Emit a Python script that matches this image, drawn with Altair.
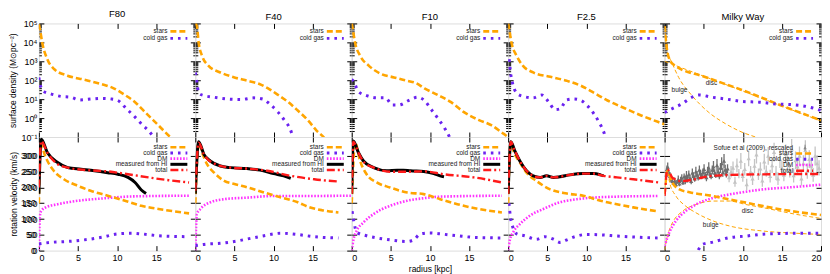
import altair as alt
import pandas as pd

FONT = "Liberation Sans"

# ---------------- surface density (top row), Msun/pc^2 ----------------
F80_STARS_R = [0, 0.2, 0.43, 1.08, 1.94, 3.66, 5.8, 7.97, 9.3, 11.0, 12.3, 13.6, 15.3, 16.8, 17.5]
F80_STARS_S = [89000, 35000, 9500, 1290, 390, 174, 107, 63, 42, 16.6, 6.9, 2.0, 0.41, 0.1, 0.06]
F80_GAS_R = [0, 0.2, 0.65, 1.5, 2.8, 4.1, 5.2, 6.7, 8.0, 9.3, 10.1, 11.2, 12.3, 13.1, 14.0, 14.7, 15.2]
F80_GAS_S = [141, 51, 25, 19, 14, 12.6, 9.1, 10.2, 11, 10.2, 8.5, 3.1, 1.12, 0.5, 0.22, 0.1, 0.06]

F40_STARS_R = [0, 0.2, 0.43, 0.86, 1.7, 3.2, 5.0, 6.7, 8.2, 9.3, 10.6, 11.9, 13.1, 14.4, 15.5, 16.4, 17.0]
F40_STARS_S = [100000, 72000, 9500, 1950, 575, 257, 141, 93, 63, 37, 16.6, 6.9, 2.5, 0.76, 0.22, 0.1, 0.05]
F40_GAS_R = [0, 0.2, 0.43, 1.1, 2.4, 4.1, 5.8, 7.5, 8.6, 9.5, 10.6, 11.4, 12.1, 12.5, 12.8]
F40_GAS_S = [257, 78, 21, 15.5, 12.6, 10.2, 9.5, 11.7, 10.2, 5.6, 2.0, 0.76, 0.28, 0.1, 0.05]

F10_STARS_R = [0, 0.13, 0.43, 1.08, 2.2, 3.7, 5.4, 7.1, 8.2, 9.3, 11.0, 12.7, 14.4, 16.2, 17.9, 19.4, 20]
F10_STARS_S = [100000, 49000, 9500, 1950, 575, 219, 141, 93, 71, 37, 16.6, 6.9, 2.0, 0.81, 0.41, 0.15, 0.1]
F10_GAS_R = [0, 0.2, 0.86, 1.9, 3.2, 4.3, 5.2, 6.0, 7.3, 8.4, 9.3, 10.1, 11.2, 11.9, 12.5, 12.8]
F10_GAS_S = [112, 93, 25, 15.5, 11.7, 11.7, 4.9, 4.9, 8.5, 12.6, 8.5, 3.1, 0.76, 0.28, 0.1, 0.05]

F25_STARS_R = [0, 0.13, 0.43, 1.08, 1.9, 3.2, 5.4, 7.5, 9.3, 11.0, 12.7, 14.9, 17.0, 19.2, 20]
F25_STARS_S = [100000, 49000, 9500, 1950, 575, 257, 151, 93, 51, 21, 8.5, 3.3, 1.38, 0.62, 0.47]
F25_GAS_R = [0.13, 0.3, 0.56, 1.08, 1.9, 3.2, 4.3, 5.2, 6.0, 6.7, 7.1, 7.5, 8.4, 9.3, 10.1, 11.0, 11.6, 12.3, 12.5]
F25_GAS_S = [1290, 257, 71, 21, 14, 11.7, 16.6, 6.9, 2.8, 3.1, 5.6, 9.1, 10.2, 8.5, 4.6, 1.6, 0.62, 0.15, 0.08]

MW_STARS_R = [0, 0.3, 0.73, 1.4, 5, 10, 15, 20]
MW_STARS_S = [72000, 4400, 1050, 575, 158, 29.5, 4.5, 0.76]
MW_DISC_R = [0, 5, 10, 15, 20]
MW_DISC_S = [1000, 163, 27, 4.3, 0.7]
MW_BULGE_R = [0, 0.3, 0.94, 1.8, 3.5, 5.65, 7.8, 9.9, 11.9, 12.5]
MW_BULGE_S = [71000, 4000, 850, 141, 15.5, 2.0, 0.5, 0.18, 0.09, 0.07]
MW_GAS_R = [0, 0.94, 2.2, 3.5, 4.4, 6.1, 7.8, 9.9, 12.1, 14.2, 16.4, 18.5, 20]
MW_GAS_S = [2.0, 3.1, 5.6, 12.6, 16.6, 12.6, 10.2, 7.6, 6.9, 5.6, 5.1, 3.8, 2.5]

# ---------------- rotation velocity (bottom row), km/s ----------------
F80_VS_R = [0, 0.13, 0.43, 0.65, 1.1, 1.9, 3.2, 5.0, 6.7, 8.8, 11.0, 13.1, 15.3, 19.2]
F80_VS_V = [150, 305, 332, 311, 284, 253, 226, 205, 189, 174, 158, 142, 132, 118]
F80_VG_R = [0, 1.5, 3.7, 5.8, 8.0, 10.1, 11.9, 13.1, 15.3, 19.2]
F80_VG_V = [21, 26, 29, 34, 42, 53, 55, 53, 47, 44]
F80_VD_R = [0, 0.1, 0.2, 0.86, 2.4, 5.0, 8.0, 12.3, 19.2]
F80_VD_V = [0, 95, 121, 137, 147, 158, 165, 172, 174]
F80_HI_R = [0, 0.3, 1.1, 2.4, 3.7, 5.4, 7.1, 8.8, 10.1, 11.4, 12.3, 13.1, 13.7]
F80_HI_V = [180, 353, 310, 279, 263, 258, 253, 247, 242, 232, 216, 192, 181]
F80_VT_R = [0, 0.3, 1.1, 2.4, 3.7, 6.2, 8.8, 11.4, 14.0, 16.6, 19.2]
F80_VT_V = [200, 347, 310, 274, 263, 255, 251, 242, 232, 223, 216]

F40_VS_R = [0, 0.43, 0.86, 1.5, 2.4, 3.7, 5.0, 6.7, 8.8, 11.0, 13.1, 14.4, 16.2, 18.3]
F40_VS_V = [150, 342, 311, 274, 247, 221, 211, 200, 184, 168, 153, 139, 128, 121]
F40_VG_R = [0, 1.5, 3.2, 5.0, 6.7, 8.8, 10.9, 13.1, 15.2, 18.3]
F40_VG_V = [16, 21, 23, 29, 37, 47, 55, 51, 44, 40]
F40_VD_R = [0, 0.2, 0.65, 1.9, 3.7, 6.7, 10.0, 13.1, 20]
F40_VD_V = [0, 116, 132, 153, 163, 168, 173, 173, 174]
F40_HI_R = [0, 0.43, 1.1, 1.9, 3.2, 4.5, 6.6, 8.3, 10.0, 11.3, 12.2]
F40_HI_V = [180, 345, 305, 284, 268, 263, 260, 255, 244, 237, 229]
F40_VT_R = [0, 0.43, 1.1, 2.4, 4.5, 6.6, 9.2, 12.2, 15.2, 18.2]
F40_VT_V = [190, 342, 305, 276, 263, 260, 253, 237, 226, 219]

F10_VS_R = [0, 0.43, 1.07, 1.9, 3.2, 4.9, 7.1, 9.2, 11.3, 13.5, 15.6, 19.2]
F10_VS_V = [150, 342, 284, 242, 216, 200, 184, 179, 163, 147, 135, 121]
F10_VG_R = [0.05, 0.25, 0.64, 1.9, 3.2, 4.9, 7.1, 7.9, 8.8, 10.0, 11.3, 13.5, 15.6, 19.2]
F10_VG_V = [125, 95, 58, 47, 40, 34, 29, 34, 53, 56, 53, 47, 42, 40]
F10_VD_R = [0, 0.2, 0.64, 1.5, 2.8, 4.9, 7.1, 9.2, 11.3, 19.2]
F10_VD_V = [0, 32, 63, 89, 116, 142, 158, 166, 171, 174]
F10_HI_R = [0, 0.2, 0.85, 1.5, 2.8, 4.5, 5.8, 6.6, 7.5, 9.2, 10.5, 11.3, 11.8]
F10_HI_V = [180, 347, 311, 284, 263, 253, 255, 255, 253, 251, 244, 237, 234]
F10_VT_R = [0, 0.2, 0.85, 1.5, 2.8, 4.9, 7.1, 9.2, 11.8, 15.6, 19.2]
F10_VT_V = [180, 345, 311, 282, 263, 250, 250, 251, 242, 232, 216]

F25_VS_R = [0, 0.3, 0.85, 1.5, 2.35, 3.6, 5.3, 7.5, 9.6, 11.8, 13.9, 16.0, 19.2]
F25_VS_V = [150, 339, 305, 279, 247, 221, 195, 181, 174, 158, 147, 137, 124]
F25_VG_R = [0.1, 0.3, 0.6, 1.1, 2.1, 3.6, 4.7, 5.8, 6.6, 7.5, 8.5, 10.0, 11.8, 14.0, 16.0, 19.2]
F25_VG_V = [150, 105, 74, 53, 47, 36, 44, 36, 26, 34, 44, 51, 50, 46, 43, 40]
F25_VD_R = [0, 0.2, 0.64, 1.5, 2.8, 4.5, 6.6, 8.8, 10.9, 13.9, 19.2]
F25_VD_V = [0, 32, 58, 84, 111, 132, 153, 163, 168, 171, 173]
F25_HI_R = [0, 0.34, 0.85, 1.5, 2.35, 3.2, 4.1, 4.9, 5.8, 6.6, 7.9, 9.6, 10.9, 11.8, 12.2]
F25_HI_V = [180, 345, 316, 284, 253, 237, 232, 237, 232, 234, 240, 244, 244, 240, 237]
F25_VT_R = [0, 0.34, 0.85, 1.5, 2.35, 3.2, 4.1, 4.9, 5.8, 6.6, 7.9, 9.6, 10.9, 12.2, 13.9, 16.0, 19.2]
F25_VT_V = [180, 345, 316, 284, 253, 237, 232, 237, 232, 234, 240, 244, 244, 237, 232, 226, 216]

MW_VS_R = [0, 0.38, 1.0, 1.9, 3.2, 6.2, 8.3, 10.4, 12.6, 16.8, 20]
MW_VS_V = [180, 252, 215, 194, 185, 173, 162, 152, 141, 123, 113]
MW_VDISC_R = [0, 0.3, 0.6, 1.0, 2.3, 4.0, 6.2, 8.3, 10.4, 12.6, 16.8, 20]
MW_VDISC_V = [0, 40, 65, 88, 125, 146, 157, 157, 146, 136, 115, 102]
MW_VBULGE_R = [0, 0.3, 0.7, 1.45, 2.7, 4.0, 6.2, 8.3, 12.6, 16.8, 20]
MW_VBULGE_V = [180, 255, 210, 173, 141, 120, 94, 78, 62, 55, 51]
MW_VD_R = [0, 0.6, 1.45, 2.7, 4.0, 6.2, 8.3, 12.6, 16.8, 20]
MW_VD_V = [15, 57, 94, 125, 146, 167, 178, 194, 202, 209]
MW_VG_R = [4.3, 4.9, 6.2, 8.3, 10.4, 12.6, 14.7, 16.8, 20]
MW_VG_V = [2, 20, 27, 41, 46, 52, 54, 55, 55]
MW_VT_R = [0, 0.38, 1.0, 2.3, 4.0, 5.7, 7.4, 10.4, 20]
MW_VT_V = [173, 257, 231, 220, 227, 236, 239, 241, 243]

# Sofue et al (2009) observed rotation curve, rescaled (inner: dark, outer: light)
SOFUE_IN_R = [0.2, 0.3, 0.4, 0.5, 0.6, 0.7, 0.8, 0.9, 1.0, 1.15, 1.3, 1.45, 1.6, 1.75, 1.9, 2.05,
              2.2, 2.35, 2.5, 2.65, 2.8, 2.95, 3.1, 3.25, 3.4, 3.55, 3.7, 3.85, 4.0, 4.15, 4.3,
              4.45, 4.6, 4.75, 4.9, 5.05, 5.2, 5.35, 5.5, 5.65, 5.8, 5.95, 6.1, 6.25, 6.4, 6.55,
              6.7, 6.85, 7.0, 7.15, 7.3, 7.45, 7.6, 7.75, 7.9, 8.05]
SOFUE_IN_V = [240, 258, 265, 250, 242, 236, 228, 224, 220, 214, 222, 210, 218, 226, 212, 224,
              230, 216, 234, 222, 238, 226, 242, 230, 220, 246, 236, 228, 250, 240, 232,
              256, 244, 236, 248, 258, 240, 232, 252, 262, 244, 236, 256, 266, 246, 240,
              270, 250, 238, 262, 276, 248, 284, 256, 244, 260]
SOFUE_IN_E = [10, 12, 14, 10, 8, 12, 8, 10, 8, 6, 10, 8, 6, 12, 8, 10,
              12, 8, 10, 12, 14, 10, 12, 8, 10, 14, 12, 10, 16, 12, 10,
              14, 12, 10, 12, 16, 10, 12, 14, 18, 12, 10, 14, 18, 12, 10,
              20, 14, 12, 16, 20, 14, 22, 16, 12, 14]
SOFUE_OUT_R = [8.25, 8.5, 8.75, 9.0, 9.25, 9.5, 9.75, 10.0, 10.25, 10.5, 10.75, 11.0, 11.25, 11.5,
               11.75, 12.0, 12.25, 12.5, 12.75, 13.0, 13.25, 13.5, 13.75, 14.0, 14.25, 14.5, 14.75,
               15.0, 15.25, 15.5, 15.75, 16.0, 16.25, 16.5, 16.75, 17.0, 17.25, 17.5, 17.75, 18.0,
               18.25, 18.5, 18.75, 19.0, 19.25, 19.5, 19.75]
SOFUE_OUT_V = [232, 250, 262, 218, 270, 244, 284, 236, 258, 210, 292, 250, 228, 268,
               304, 242, 260, 222, 282, 252, 300, 236, 270, 312, 246, 228, 290,
               262, 240, 306, 276, 254, 322, 238, 286, 266, 300, 228, 276, 318,
               252, 290, 268, 240, 300, 276, 262]
SOFUE_OUT_E = [15, 18, 20, 16, 22, 15, 25, 18, 20, 18, 25, 18, 20, 22,
               28, 18, 20, 20, 25, 18, 28, 20, 24, 30, 22, 20, 28,
               22, 20, 30, 25, 22, 32, 22, 28, 24, 30, 22, 26, 32,
               24, 28, 26, 22, 30, 26, 24]

PANEL_TITLES = ["F80", "F40", "F10", "F2.5", "Milky Way"]
TOP_MAJOR = [0.1, 1, 10, 100, 1000, 10000, 100000]
TOP_MINOR = [m * 10.0 ** e for e in range(-1, 5) for m in range(2, 10)]
BOT_MAJOR = [0, 50, 100, 150, 200, 250, 300]
X_TICKS = [0, 5, 10, 15]
X_TICKS_LAST = [0, 5, 10, 15, 20]

# ---------------- styles ----------------
ORANGE = "#ffa500"
PURPLE = "#6a22f0"
MAGENTA = "#ff33ff"
RED = "#ff1a1a"
S_STARS = dict(color=ORANGE, strokeDash=[6, 3], strokeWidth=2.6)
S_GAS = dict(color=PURPLE, strokeDash=[2.6, 5], strokeWidth=3)
S_DM = dict(color=MAGENTA, strokeDash=[1.6, 1.6], strokeWidth=2.6)
S_HI = dict(color="black", strokeWidth=3)
S_TOT = dict(color=RED, strokeDash=[8, 3, 2, 3], strokeWidth=2.4)
S_THIN = dict(color=ORANGE, strokeDash=[4, 2.5], strokeWidth=1)

W = 157
H_TOP = 114
H_BOT = 114

XS = alt.Scale(domain=[0, 20], nice=False, zero=False)
YS_TOP = alt.Scale(type="log", domain=[0.1, 100000], nice=False)
YS_BOT = alt.Scale(domain=[0, 360], nice=False, zero=True)

ONE = pd.DataFrame({"k": [0]})

AX_COMMON = dict(domain=False, grid=False, tickColor="black", tickWidth=1,
                 labelFont=FONT, labelFontSize=9, labelColor="black", labelOverlap=False,
                 titleFont=FONT, titleFontSize=8.5, titleFontWeight="normal",
                 titleColor="black")


def line(r, v, style, ys):
    df = pd.DataFrame({"r": r, "v": v})
    return alt.Chart(df).mark_line(clip=True, interpolate="monotone", **style).encode(
        x=alt.X("r:Q", scale=XS, axis=None),
        y=alt.Y("v:Q", scale=ys, axis=None),
    )


def axes(row, col):
    ys = YS_TOP if row == 0 else YS_BOT
    dummy = pd.DataFrame({"r": [1.0], "v": [1.0 if row == 0 else 100.0]})
    ymaj = TOP_MAJOR if row == 0 else BOT_MAJOR
    xvals = X_TICKS_LAST if col == 4 else X_TICKS
    show_xl = row == 1
    xtitle = "radius [kpc]" if (row == 1 and col == 2) else None
    ytitle = None
    if col == 0:
        ytitle = "surface density (M\u2299pc\u207b\u00b2)" if row == 0 else "rotation velocity (km/s)"
    yl_kwargs = dict(AX_COMMON)
    if row == 0:
        yl_kwargs["labelExpr"] = ("['10\u207b\u00b9','10\u2070','10\u00b9','10\u00b2','10\u00b3',"
                                  "'10\u2074','10\u2075'][round(log(datum.value)/LN10)+1]")
    big = alt.ExprRef(expr="-5")
    small = alt.ExprRef(expr="-2.5")
    a1 = alt.Chart(dummy).mark_point(opacity=0).encode(
        x=alt.X("r:Q", scale=XS, title=xtitle,
                axis=alt.Axis(orient="bottom", values=xvals, labels=show_xl, tickSize=big,
                              labelPadding=8, titlePadding=2, **AX_COMMON)),
        y=alt.Y("v:Q", scale=ys, title=ytitle,
                axis=alt.Axis(orient="left", values=ymaj, labels=(col == 0), tickSize=big,
                              labelPadding=7, titlePadding=3, **yl_kwargs)),
    )
    a2 = alt.Chart(dummy).mark_point(opacity=0).encode(
        x=alt.X("r:Q", scale=XS, title=None,
                axis=alt.Axis(orient="top", values=X_TICKS, labels=False, tickSize=big, **AX_COMMON)),
        y=alt.Y("v:Q", scale=ys, title=None,
                axis=alt.Axis(orient="right", values=ymaj, labels=False, tickSize=big, **AX_COMMON)),
    )
    out = [a1, a2]
    if row == 0:
        for orient in ("left", "right"):
            out.append(alt.Chart(dummy).mark_point(opacity=0).encode(
                x=alt.X("r:Q", scale=XS, axis=None),
                y=alt.Y("v:Q", scale=ys, title=None,
                        axis=alt.Axis(orient=orient, values=TOP_MINOR, labels=False,
                                      tickSize=small, **AX_COMMON)),
            ))
    elif col == 0:
        # velocity tick labels drawn through the y scale
        lab = pd.DataFrame({"v": BOT_MAJOR})
        out.append(alt.Chart(lab).mark_text(align="right", baseline="middle", fontSize=9,
                                            font=FONT, color="black").encode(
            x=alt.value(-3),
            y=alt.Y("v:Q", scale=ys, axis=None),
            text=alt.Text("v:Q", format="d")))
    return out


LEG_TX = 129
LEG_X1 = 132
LEG_X2 = 149


def legend(entries, y0, dy):
    out = []
    for i, (label, style) in enumerate(entries):
        y = y0 + i * dy
        out.append(alt.Chart(ONE).mark_text(align="right", baseline="middle", fontSize=6.5,
                                            font=FONT, color="#222").encode(
            x=alt.value(LEG_TX), y=alt.value(y), text=alt.value(label)))
        if style == "sofue":
            out.append(alt.Chart(ONE).mark_rule(color="#888", strokeWidth=1).encode(
                x=alt.value(141), y=alt.value(y - 3), y2=alt.value(y + 3)))
            out.append(alt.Chart(ONE).mark_point(shape="triangle-up", filled=True, size=12,
                                                 color="#888", opacity=1).encode(
                x=alt.value(141), y=alt.value(y)))
        else:
            out.append(alt.Chart(ONE).mark_rule(**style).encode(
                x=alt.value(LEG_X1), x2=alt.value(LEG_X2), y=alt.value(y)))
    return out


def text_label(r, v, txt, ys):
    df = pd.DataFrame({"r": [r], "v": [v], "t": [txt]})
    return alt.Chart(df).mark_text(fontSize=6.5, font=FONT, color="#222").encode(
        x=alt.X("r:Q", scale=XS, axis=None), y=alt.Y("v:Q", scale=ys, axis=None), text="t:N")


def sofue(r, v, e, color):
    df = pd.DataFrame({"r": r, "v": v, "lo": [a - b for a, b in zip(v, e)],
                       "hi": [a + b for a, b in zip(v, e)]})
    bars = alt.Chart(df).mark_rule(color=color, strokeWidth=1.3, clip=True).encode(
        x=alt.X("r:Q", scale=XS, axis=None),
        y=alt.Y("lo:Q", scale=YS_BOT, axis=None), y2="hi:Q")
    pts = alt.Chart(df).mark_point(shape="triangle-up", filled=True, size=18, color=color,
                                   opacity=1, clip=True).encode(
        x=alt.X("r:Q", scale=XS, axis=None), y=alt.Y("v:Q", scale=YS_BOT, axis=None))
    return [bars, pts]


TOP_DATA = [
    (F80_STARS_R, F80_STARS_S, F80_GAS_R, F80_GAS_S),
    (F40_STARS_R, F40_STARS_S, F40_GAS_R, F40_GAS_S),
    (F10_STARS_R, F10_STARS_S, F10_GAS_R, F10_GAS_S),
    (F25_STARS_R, F25_STARS_S, F25_GAS_R, F25_GAS_S),
    (MW_STARS_R, MW_STARS_S, MW_GAS_R, MW_GAS_S),
]
BOT_DATA = [
    (F80_VS_R, F80_VS_V, F80_VG_R, F80_VG_V, F80_VD_R, F80_VD_V, F80_HI_R, F80_HI_V, F80_VT_R, F80_VT_V),
    (F40_VS_R, F40_VS_V, F40_VG_R, F40_VG_V, F40_VD_R, F40_VD_V, F40_HI_R, F40_HI_V, F40_VT_R, F40_VT_V),
    (F10_VS_R, F10_VS_V, F10_VG_R, F10_VG_V, F10_VD_R, F10_VD_V, F10_HI_R, F10_HI_V, F10_VT_R, F10_VT_V),
    (F25_VS_R, F25_VS_V, F25_VG_R, F25_VG_V, F25_VD_R, F25_VD_V, F25_HI_R, F25_HI_V, F25_VT_R, F25_VT_V),
]

panels = []
for col in range(5):
    sr, sv, gr, gv = TOP_DATA[col]
    layers = axes(0, col)
    if col == 4:
        layers += [line(MW_DISC_R, MW_DISC_S, S_THIN, YS_TOP),
                   line(MW_BULGE_R, MW_BULGE_S, S_THIN, YS_TOP),
                   text_label(6.0, 74, "disc", YS_TOP),
                   text_label(1.9, 32, "bulge", YS_TOP)]
    layers += [line(sr, sv, S_STARS, YS_TOP), line(gr, gv, S_GAS, YS_TOP)]
    layers += legend([("stars", S_STARS), ("cold gas", S_GAS)], 8, 7)
    panels.append(alt.layer(*layers).resolve_axis(x="independent", y="independent").properties(
        width=W, height=H_TOP,
        title=alt.Title(PANEL_TITLES[col], font=FONT, fontSize=9.5, fontWeight="normal",
                        color="black", offset=1, anchor="middle")))

for col in range(5):
    layers = axes(1, col)
    if col < 4:
        sr, sv, gr, gv, dr, dv, hr, hv, tr, tv = BOT_DATA[col]
        layers += [line(dr, dv, S_DM, YS_BOT), line(gr, gv, S_GAS, YS_BOT),
                   line(sr, sv, S_STARS, YS_BOT), line(hr, hv, S_HI, YS_BOT),
                   line(tr, tv, S_TOT, YS_BOT)]
        layers += legend([("stars", S_STARS), ("cold gas", S_GAS), ("DM", S_DM),
                          ("measured from HI", S_HI), ("total", S_TOT)], 10.3, 5.7)
    else:
        layers += sofue(SOFUE_OUT_R, SOFUE_OUT_V, SOFUE_OUT_E, "#c4c4c4")
        layers += sofue(SOFUE_IN_R, SOFUE_IN_V, SOFUE_IN_E, "#6e6e6e")
        layers += [line(MW_VDISC_R, MW_VDISC_V, S_THIN, YS_BOT),
                   line(MW_VBULGE_R, MW_VBULGE_V, S_THIN, YS_BOT),
                   line(MW_VD_R, MW_VD_V, S_DM, YS_BOT), line(MW_VG_R, MW_VG_V, S_GAS, YS_BOT),
                   line(MW_VS_R, MW_VS_V, S_STARS, YS_BOT), line(MW_VT_R, MW_VT_V, S_TOT, YS_BOT),
                   text_label(10.6, 125, "disc", YS_BOT), text_label(5.9, 80, "bulge", YS_BOT)]
        layers += legend([("Sofue et al (2009), rescaled", "sofue"), ("stars", S_STARS),
                          ("cold gas", S_GAS), ("DM", S_DM), ("total", S_TOT)], 10.7, 5.8)
    panels.append(alt.layer(*layers).resolve_axis(x="independent", y="independent").properties(
        width=W, height=H_BOT))

chart = alt.concat(*panels, columns=5, spacing=0, bounds="flush").properties(
    padding=0
).configure_view(stroke="black", strokeWidth=1.5).configure(background="white")

chart.save("out.html", embed_options={"renderer": "svg", "actions": False})
